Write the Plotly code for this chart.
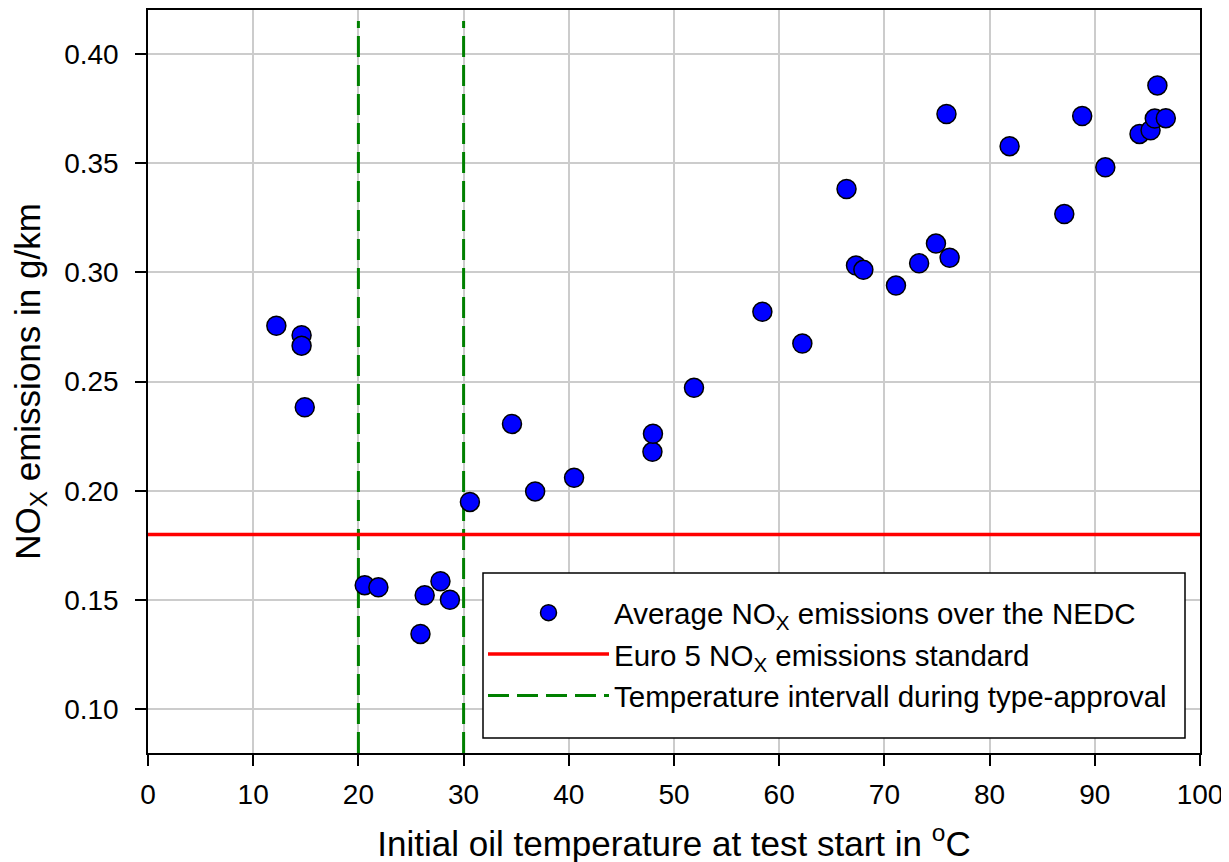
import plotly.graph_objects as go

# Data
oil_temp_c = [12.2, 14.6, 14.6, 14.9, 20.6, 21.9, 25.9, 26.3, 27.8, 28.7, 30.6,
              34.6, 36.8, 40.5, 47.95, 48.0, 51.9, 58.4, 62.2, 66.4, 67.3, 68.0,
              71.1, 73.3, 74.9, 75.9, 76.2, 81.9, 87.1, 88.8, 91.0, 94.25, 95.3,
              95.7, 95.95, 96.75]
nox_g_km = [0.2755, 0.2712, 0.2664, 0.2382, 0.1568, 0.1558, 0.1345, 0.1522, 0.1586,
            0.1501, 0.1949, 0.2306, 0.1997, 0.2059, 0.2178, 0.2261, 0.2471, 0.2819,
            0.2674, 0.3381, 0.3031, 0.3011, 0.2939, 0.3041, 0.3131, 0.3724, 0.3066,
            0.3577, 0.3266, 0.3715, 0.3480, 0.3633, 0.3650, 0.3703, 0.3855, 0.3705]

euro5_limit = 0.18
approval_interval = [20, 30]
x_range = [0, 100]
y_range = [0.08, 0.42]
interval_top = 0.415

x_ticks = list(range(0, 101, 10))
y_ticks = [0.10, 0.15, 0.20, 0.25, 0.30, 0.35, 0.40]

FONT = "Liberation Sans, Arial, sans-serif"

# plot-area geometry in pixels (page body adds an 8px offset)
PAGE_OFF = 8
W, H = 1229, 862
ML, MR, MT, MB = 140, 37, 2, 117
PW, PH = W - ML - MR, H - MT - MB


def px_x(p):
    return (p - PAGE_OFF - ML) / PW


def px_y(p):
    return (H - MB - (p - PAGE_OFF)) / PH


fig = go.Figure()

fig.add_trace(go.Scatter(
    x=[approval_interval[0], approval_interval[0], None, approval_interval[1], approval_interval[1]],
    y=[y_range[0], interval_top, None, y_range[0], interval_top],
    mode="lines",
    line=dict(color="#008000", width=3, dash="21px,8px"),
    name="Temperature intervall during type-approval",
    legendrank=3,
))

fig.add_trace(go.Scatter(
    x=x_range, y=[euro5_limit, euro5_limit],
    mode="lines",
    line=dict(color="#ff0000", width=3.5),
    name="Euro 5 NO<sub>X</sub> emissions standard",
    legendrank=2,
))

fig.add_trace(go.Scatter(
    x=oil_temp_c, y=nox_g_km,
    mode="markers",
    marker=dict(size=19, color="#0000ff", line=dict(color="black", width=1.5)),
    name="Average NO<sub>X</sub> emissions over the NEDC",
    legendrank=1,
))

axis_common = dict(
    showline=True, linecolor="black", linewidth=1.5, mirror=True,
    showgrid=True, gridcolor="#cccccc", gridwidth=1.5,
    ticks="outside", ticklen=11, tickwidth=1.5, tickcolor="black",
    zeroline=False, automargin=False,
    tickfont=dict(family=FONT, size=28, color="black"),
)

fig.update_xaxes(
    range=x_range, tickvals=x_ticks, ticklabelstandoff=5,
    title=dict(text="Initial oil temperature at test start in <sup>o</sup>C",
               font=dict(family=FONT, size=35, color="black"), standoff=22),
    **axis_common,
)
fig.update_yaxes(
    range=y_range, tickvals=y_ticks, tickformat=".2f", ticklabelstandoff=11,
    title=dict(text="NO<sub>X</sub> emissions in g/km",
               font=dict(family=FONT, size=35, color="black"), standoff=15),
    **axis_common,
)

# legend frame (white box with black border) behind the native legend entries
fig.add_shape(
    type="rect", xref="paper", yref="paper",
    x0=px_x(483), x1=px_x(1185), y0=px_y(738), y1=px_y(573),
    fillcolor="white", line=dict(color="black", width=1.5), layer="above",
)

fig.update_layout(
    width=W, height=H,
    margin=dict(l=ML, r=MR, t=MT, b=MB),
    paper_bgcolor="white", plot_bgcolor="white",
    font=dict(family=FONT, color="black"),
    showlegend=True,
    legend=dict(
        x=px_x(483), y=px_y(587), xanchor="left", yanchor="top",
        bgcolor="rgba(0,0,0,0)", borderwidth=0,
        font=dict(family=FONT, size=29.5, color="black"),
        itemwidth=121, tracegroupgap=0,
    ),
)

fig.write_html("out.html")
